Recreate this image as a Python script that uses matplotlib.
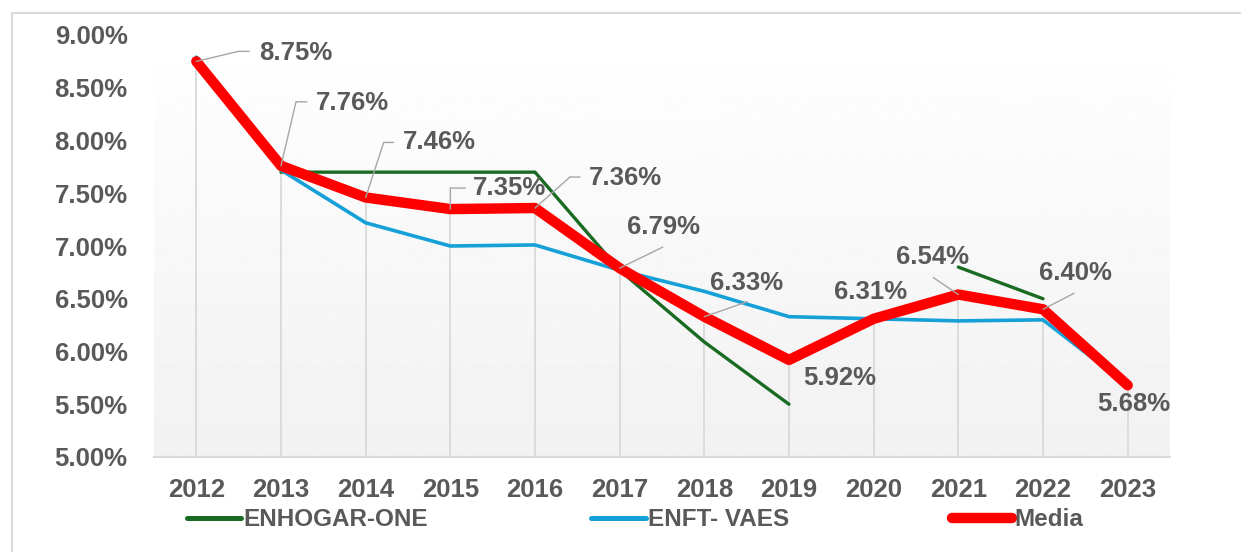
import numpy as np
import matplotlib
matplotlib.use('Agg')
import matplotlib.pyplot as plt
from matplotlib.lines import Line2D
from matplotlib.transforms import offset_copy

# --- データ ---
years = ['2012', '2013', '2014', '2015', '2016', '2017',
         '2018', '2019', '2020', '2021', '2022', '2023']
enhogar = [np.nan, 7.70, 7.70, 7.70, 7.70, 6.77, 6.09, 5.50, np.nan, 6.80, 6.50, np.nan]
enft = [8.79, 7.72, 7.22, 7.00, 7.01, 6.77, 6.57, 6.33, 6.31, 6.29, 6.30, 5.68]
media = [8.75, 7.76, 7.46, 7.35, 7.36, 6.79, 6.33, 5.92, 6.31, 6.54, 6.40, 5.68]

# ラベル位置 (px オフセット) と引き出し線
label_offsets = [(63, 8), (35, 63), (37, 55), (23, 21), (54, 30), (7, 41),
                 (6, 34), (14, -18), (-40, 27), (-62, 38), (-4, 36), (-30, -19)]
leaders = [[(0, 0), (42, 10), (53, 10)],
           [(0, 0), (15, 64), (26, 64)],
           [(0, 0), (18, 55), (28, 55)],
           [(0, 0), (0, 21), (15, 21)],
           [(0, 0), (35, 31), (45, 31)],
           [(0, 0), (43, 21)],
           [(0, 0), (43, 15)],
           None, None,
           [(0, 0), (-25, 17)],
           [(0, 0), (31, 16)],
           None]

TXT = '#595959'
plt.rcParams['font.family'] = ['Liberation Sans', 'DejaVu Sans']
plt.rcParams['font.weight'] = 'bold'

W, H = 1241, 552
fig = plt.figure(figsize=(W / 100, H / 100), dpi=100)
ax = fig.add_axes([154 / W, 1 - 457 / H, (1170 - 154) / W, (457 - 35) / H])

x = np.arange(len(years))

# 背景グラデーション
grad = np.linspace(1.0, 0.945, 256).reshape(-1, 1)
ax.imshow(grad, extent=[0, 1, 0, 1], transform=ax.transAxes, cmap='gray',
          vmin=0, vmax=1, aspect='auto', zorder=0)

# ドロップライン
ax.vlines(x, 5, media, color='#d9d9d9', lw=1.3, zorder=1)

l1, = ax.plot(x, enhogar, color='#1a6b22', lw=2.4, zorder=3, solid_capstyle='round')
l2, = ax.plot(x, enft, color='#16a0d8', lw=2.6, zorder=3, solid_capstyle='round')
l3, = ax.plot(x, media, color='#ff0000', lw=7.5, zorder=4,
              solid_capstyle='round', solid_joinstyle='round')

ax.set_xlim(-0.5, len(years) - 0.5)
ax.set_ylim(5, 9)
ax.set_yticks(np.arange(5, 9.01, 0.5))
ax.set_yticklabels([f'{v:.2f}%' for v in np.arange(5, 9.01, 0.5)])
ax.set_xticks(x)
ax.set_xticklabels(years)
ax.tick_params(axis='y', length=0, pad=19, labelsize=18.5, labelcolor=TXT)
ax.tick_params(axis='x', length=0, pad=15, labelsize=18.5, labelcolor=TXT)
for s in ['top', 'right', 'left']:
    ax.spines[s].set_visible(False)
ax.spines['bottom'].set_color('#d9d9d9')
ax.spines['bottom'].set_linewidth(1.5)

# データラベル
for i, v in enumerate(media):
    dx, dy = label_offsets[i]
    ax.annotate(f'{v:.2f}%', (x[i], v), xytext=(dx, dy), textcoords='offset pixels',
                ha='left', va='center', fontsize=18.5, color=TXT, zorder=6)
    if leaders[i] is not None:
        px = [p[0] for p in leaders[i]]
        py = [p[1] for p in leaders[i]]
        for k in range(len(px) - 1):
            tr = offset_copy(ax.transData, fig=fig, x=px[k], y=py[k], units='dots')
            ax.annotate('', xy=(x[i], v), xycoords=tr,
                        xytext=(px[k + 1] - px[k], py[k + 1] - py[k]),
                        textcoords='offset pixels',
                        arrowprops=dict(arrowstyle='-', color='#a6a6a6', lw=1.0,
                                        shrinkA=0, shrinkB=0),
                        zorder=5)

# 凡例
for line, lab, lx, hl, hw in [(l1, 'ENHOGAR-ONE', 187, 54, 3.6),
                              (l2, 'ENFT- VAES', 591, 55, 3.6),
                              (l3, 'Media', 952, 60, 7.5)]:
    fs = 17.5
    leg = fig.legend([line], [lab], loc='center left', bbox_to_anchor=(lx / W, 1 - 520 / H),
                     frameon=False, fontsize=fs, handlelength=hl / (fs * 100 / 72),
                     handletextpad=0.1, borderpad=0, borderaxespad=0,
                     labelcolor=TXT)
    for h in leg.legend_handles:
        h.set_linewidth(hw)
        h.set_solid_capstyle('round')

# 枠線
fig.add_artist(Line2D([12 / W, 12 / W], [0, 1 - 13 / H], transform=fig.transFigure,
                      color='#d9d9d9', lw=1.5))
fig.add_artist(Line2D([12 / W, 1], [1 - 13 / H, 1 - 13 / H], transform=fig.transFigure,
                      color='#d9d9d9', lw=1.5))

fig.savefig('out.png', dpi=100)
plt.close(fig)
